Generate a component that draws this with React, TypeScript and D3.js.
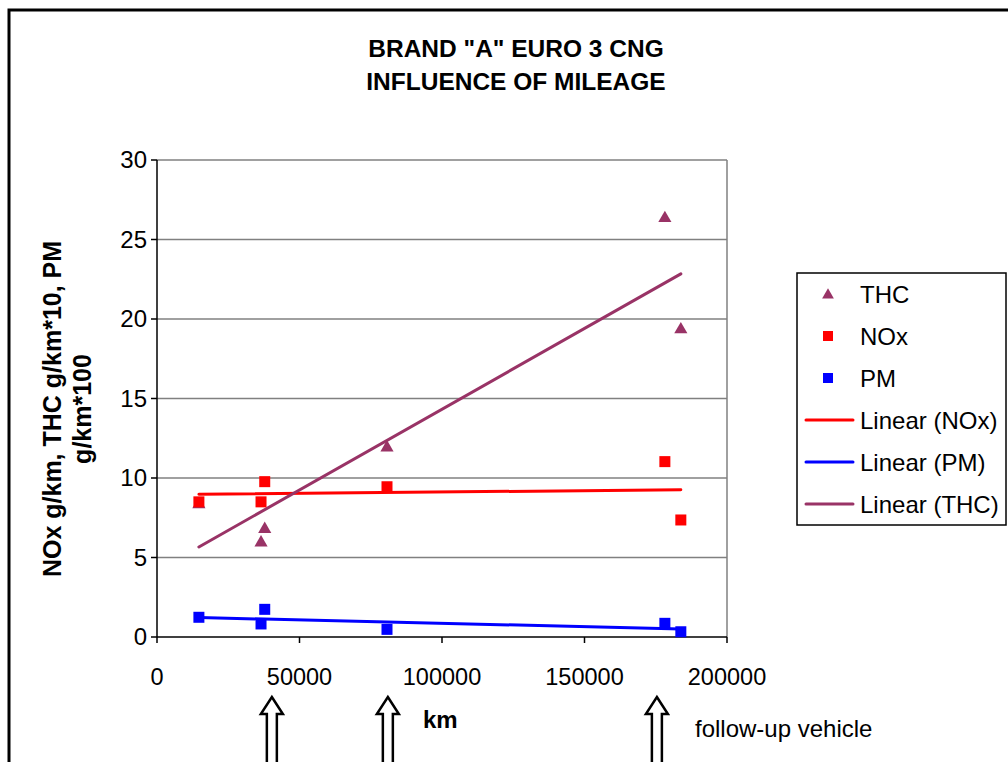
import React from 'react';
import * as d3 from 'd3';

// mileage (km) for each measured vehicle
const mileage = [14700, 36500, 37800, 80700, 178200, 183800];
const thc = [8.4, 6.0, 6.85, 11.97, 26.4, 19.4];
const nox = [8.5, 8.5, 9.77, 9.45, 11.03, 7.36];
const pm = [1.24, 0.82, 1.74, 0.48, 0.86, 0.33];

const yTicks = [0, 5, 10, 15, 20, 25, 30];
const xTicks = [0, 50000, 100000, 150000, 200000];
const arrowKm = [40300, 81000, 175400];

const titleLines = ['BRAND "A" EURO 3 CNG', 'INFLUENCE OF MILEAGE'];
const yLabelLines = ['NOx g/km, THC g/km*10, PM', 'g/km*100'];

const COLORS = { THC: '#993366', NOx: '#ff0000', PM: '#0000ff' };

// least squares fit, drawn between the first and last mileage
function fit(xs: number[], ys: number[]) {
    const mx = d3.mean(xs)!;
    const my = d3.mean(ys)!;
    const sxy = d3.sum(xs, (x, i) => (x - mx) * (ys[i] - my));
    const sxx = d3.sum(xs, x => (x - mx) ** 2);
    const b = sxy / sxx;
    const a = my - b * mx;
    const [x0, x1] = d3.extent(xs) as [number, number];
    return [[x0, a + b * x0], [x1, a + b * x1]] as [number, number][];
}

export default function App() {
    const left = 157, right = 727, top = 160, bottom = 637;
    const x = d3.scaleLinear().domain([0, 200000]).range([left, right]);
    const y = d3.scaleLinear().domain([0, 30]).range([bottom, top]);
    const line = d3.line<[number, number]>().x(d => x(d[0])).y(d => y(d[1]));
    const font = '"Liberation Sans", Arial, sans-serif';

    const tri = d3.symbol().type(d3.symbolTriangle).size(75)()!;
    const sq = 11;

    const trends = [
        { key: 'NOx', pts: fit(mileage, nox) },
        { key: 'PM', pts: fit(mileage, pm) },
        { key: 'THC', pts: fit(mileage, thc) },
    ];

    const legendItems = [
        { label: 'THC', kind: 'tri', color: COLORS.THC },
        { label: 'NOx', kind: 'sq', color: COLORS.NOx },
        { label: 'PM', kind: 'sq', color: COLORS.PM },
        { label: 'Linear (NOx)', kind: 'line', color: COLORS.NOx },
        { label: 'Linear (PM)', kind: 'line', color: COLORS.PM },
        { label: 'Linear (THC)', kind: 'line', color: COLORS.THC },
    ];

    return (
        <svg width={1008} height={762} style={{ position: 'absolute', left: 0, top: 0, background: '#fff' }} fontFamily={font}>
            <rect x={9} y={10} width={1010} height={770} fill="#fff" stroke="#000" strokeWidth={3} />

            {/* title */}
            {titleLines.map((t, i) => (
                <text key={t} x={516} y={57 + i * 33} textAnchor="middle" fontSize={24.5} fontWeight="bold">{t}</text>
            ))}

            {/* grid */}
            {yTicks.filter(t => t > 0).map(t => (
                <line key={t} x1={left} x2={right} y1={y(t)} y2={y(t)} stroke="#808080" strokeWidth={1.5} />
            ))}
            <line x1={right} x2={right} y1={top} y2={bottom} stroke="#808080" strokeWidth={1.5} />

            {/* axes */}
            <line x1={left} x2={left} y1={top} y2={bottom} stroke="#000" strokeWidth={1.5} />
            <line x1={left} x2={right} y1={bottom} y2={bottom} stroke="#000" strokeWidth={1.5} />
            {yTicks.map(t => (
                <g key={t}>
                    <line x1={left - 6} x2={left} y1={y(t)} y2={y(t)} stroke="#000" strokeWidth={1.5} />
                    <text x={left - 10} y={y(t) + 8} textAnchor="end" fontSize={24}>{t}</text>
                </g>
            ))}
            {xTicks.map(t => (
                <g key={t}>
                    <line x1={x(t)} x2={x(t)} y1={bottom} y2={bottom + 6} stroke="#000" strokeWidth={1.5} />
                    <text x={x(t)} y={685} textAnchor="middle" fontSize={23.5}>{t}</text>
                </g>
            ))}

            {/* y label */}
            <g transform="translate(61,409) rotate(-90)">
                {yLabelLines.map((t, i) => (
                    <text key={t} x={0} y={i * 30} textAnchor="middle" fontSize={25} fontWeight="bold">{t}</text>
                ))}
            </g>

            {/* trend lines */}
            {trends.map(tr => (
                <path key={tr.key} d={line(tr.pts)!} fill="none" stroke={COLORS[tr.key as keyof typeof COLORS]} strokeWidth={3} strokeLinecap="round" />
            ))}

            {/* markers */}
            {mileage.map((m, i) => (
                <path key={'t' + i} d={tri} transform={`translate(${x(m)},${y(thc[i]) + 1})`} fill={COLORS.THC} />
            ))}
            {mileage.map((m, i) => (
                <rect key={'n' + i} x={x(m) - sq / 2} y={y(nox[i]) - sq / 2} width={sq} height={sq} fill={COLORS.NOx} />
            ))}
            {mileage.map((m, i) => (
                <rect key={'p' + i} x={x(m) - sq / 2} y={y(pm[i]) - sq / 2} width={sq} height={sq} fill={COLORS.PM} />
            ))}

            {/* legend */}
            <rect x={797} y={273} width={209} height={252} fill="#fff" stroke="#000" strokeWidth={1.5} />
            {legendItems.map((it, i) => {
                const cy = 294 + i * 42;
                return (
                    <g key={it.label}>
                        {it.kind === 'tri' && <path d={d3.symbol().type(d3.symbolTriangle).size(60)()!} transform={`translate(828,${cy + 1})`} fill={it.color} />}
                        {it.kind === 'sq' && <rect x={823} y={cy - 5} width={10} height={10} fill={it.color} />}
                        {it.kind === 'line' && <line x1={806} x2={853} y1={cy} y2={cy} stroke={it.color} strokeWidth={3} strokeLinecap="round" />}
                        <text x={860} y={cy + 8.5} fontSize={24}>{it.label}</text>
                    </g>
                );
            })}

            {/* annotations */}
            <text x={423} y={728} fontSize={24} fontWeight="bold">km</text>
            <text x={695} y={737} fontSize={24}>follow-up vehicle</text>
            {arrowKm.map(k => {
                const cx = x(k);
                const tipY = 697, headH = 17, headW = 11, shaft = 5;
                const d = `M${cx},${tipY} L${cx + headW},${tipY + headH} L${cx + shaft},${tipY + headH} L${cx + shaft},770 L${cx - shaft},770 L${cx - shaft},${tipY + headH} L${cx - headW},${tipY + headH} Z`;
                return <path key={k} d={d} fill="#fff" stroke="#000" strokeWidth={2.5} strokeLinejoin="miter" />;
            })}
        </svg>
    );
}
